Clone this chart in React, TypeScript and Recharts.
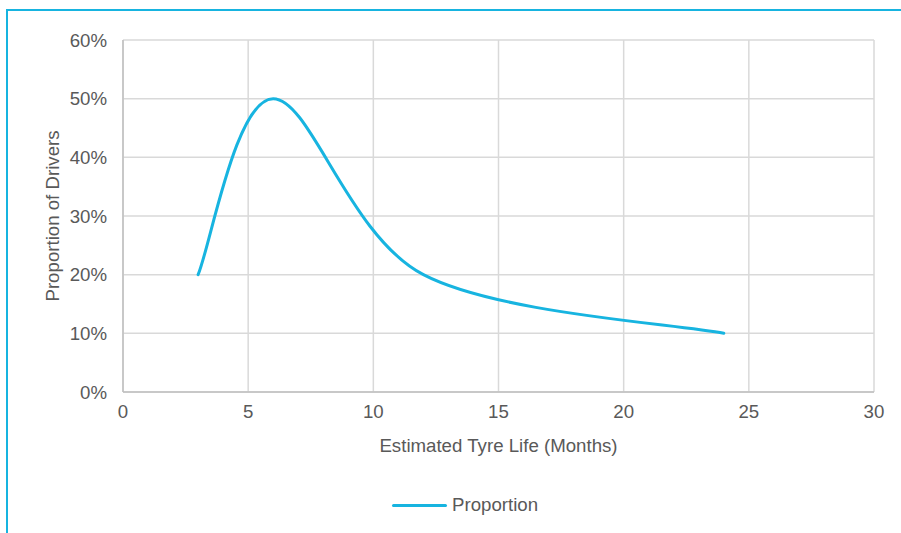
import { LineChart, Line, XAxis, YAxis, CartesianGrid } from 'recharts';

const months = [3, 6, 12, 24];
const proportion = [0.2, 0.5, 0.2, 0.1];
const xTicks = [0, 5, 10, 15, 20, 25, 30];
const yTicks = [0, 0.1, 0.2, 0.3, 0.4, 0.5, 0.6];

const data = months.map((m, i) => ({ months: m, proportion: proportion[i] }));

const FONT = '"Liberation Sans", Arial, sans-serif';
const FS = 18.67;
const TEXT = '#595959';
const BLUE = '#17B4E0';

// spreadsheet-style smoothed line (Catmull-Rom as cubic Bezier)
function smoothCurve(context: any) {
  let pts: [number, number][] = [];
  return {
    areaStart() {},
    areaEnd() {},
    lineStart() {
      pts = [];
    },
    lineEnd() {
      const n = pts.length;
      if (!n) return;
      context.moveTo(pts[0][0], pts[0][1]);
      for (let i = 0; i < n - 1; i++) {
        const p0 = pts[i - 1] || pts[i];
        const p1 = pts[i];
        const p2 = pts[i + 1];
        const p3 = pts[i + 2] || p2;
        context.bezierCurveTo(
          p1[0] + (p2[0] - p0[0]) / 6,
          p1[1] + (p2[1] - p0[1]) / 6,
          p2[0] - (p3[0] - p1[0]) / 6,
          p2[1] - (p3[1] - p1[1]) / 6,
          p2[0],
          p2[1]
        );
      }
    },
    point(x: number, y: number) {
      pts.push([+x, +y]);
    },
  };
}

export default function App() {
  return (
    <div style={{ position: 'fixed', left: 0, top: 0, width: 901, height: 533, background: '#fff', overflow: 'hidden' }}>
      {/* frame */}
      <div
        style={{
          position: 'absolute',
          left: 6,
          top: 9,
          width: 900,
          height: 530,
          borderTop: `2px solid ${BLUE}`,
          borderLeft: `2px solid ${BLUE}`,
        }}
      />
      <div style={{ position: 'absolute', left: 0, top: 0 }}>
        <LineChart width={901} height={533} data={data} margin={{ top: 40, right: 27, bottom: 81, left: 63 }}>
          <CartesianGrid stroke="#d9d9d9" strokeWidth={1.5} />
          <XAxis
            dataKey="months"
            type="number"
            domain={[0, 30]}
            ticks={xTicks}
            interval={0}
            height={60}
            tickLine={false}
            tickMargin={7}
            stroke="#bfbfbf"
            strokeWidth={1.5}
            tick={{ fill: TEXT, fontSize: FS, fontFamily: FONT }}
            label={{
              value: 'Estimated Tyre Life (Months)',
              position: 'insideBottom',
              offset: 0,
              fill: TEXT,
              fontSize: FS,
              fontFamily: FONT,
            }}
          />
          <YAxis
            type="number"
            domain={[0, 0.6]}
            ticks={yTicks}
            interval={0}
            width={60}
            tickLine={false}
            tickMargin={10}
            stroke="#bfbfbf"
            strokeWidth={1.5}
            tickFormatter={(v: number) => `${Math.round(v * 100)}%`}
            tick={{ fill: TEXT, fontSize: FS, fontFamily: FONT }}
            label={{
              value: 'Proportion of Drivers',
              angle: -90,
              position: 'center',
              dx: -41,
              fill: TEXT,
              fontSize: FS,
              fontFamily: FONT,
            }}
          />
          <Line
            type={smoothCurve as any}
            dataKey="proportion"
            name="Proportion"
            stroke={BLUE}
            strokeWidth={3}
            strokeLinecap="round"
            dot={false}
            activeDot={false}
            isAnimationActive={false}
          />
        </LineChart>
      </div>
      {/* legend */}
      <div
        style={{
          position: 'absolute',
          left: 392,
          top: 493,
          display: 'flex',
          alignItems: 'center',
          height: 24,
          fontFamily: FONT,
          fontSize: FS,
          color: TEXT,
        }}
      >
        <span style={{ display: 'inline-block', width: 55, height: 3, background: BLUE, borderRadius: 2, marginRight: 5 }} />
        <span>Proportion</span>
      </div>
    </div>
  );
}
